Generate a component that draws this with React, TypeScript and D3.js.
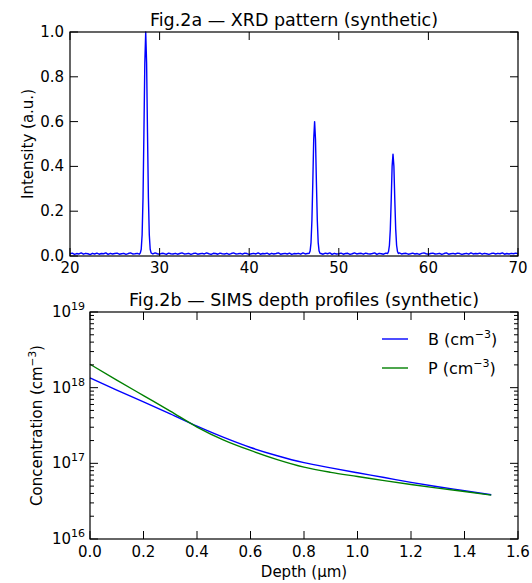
import React from "react";
import * as d3 from "d3";

// ---------- Data ----------
// XRD baseline (every 0.25 deg from 20 to 70), hand-read noisy background
const xrdBaseStep = 0.25;
const xrdBaseY = [
  0.010, 0.013, 0.007, 0.011, 0.009, 0.014, 0.008, 0.012, 0.010, 0.006,
  0.012, 0.009, 0.013, 0.008, 0.011, 0.010, 0.014, 0.007, 0.012, 0.009,
  0.011, 0.013, 0.008, 0.010, 0.012, 0.007, 0.011, 0.014, 0.009, 0.010,
  0.012, 0.008, 0.013, 0.010, 0.007, 0.011, 0.012, 0.009, 0.014, 0.010,
  0.008, 0.012, 0.011, 0.007, 0.013, 0.010, 0.009, 0.012, 0.008, 0.011,
  0.014, 0.009, 0.010, 0.012, 0.007, 0.011, 0.013, 0.008, 0.010, 0.012,
  0.009, 0.014, 0.010, 0.007, 0.012, 0.011, 0.008, 0.013, 0.010, 0.009,
  0.012, 0.007, 0.011, 0.014, 0.009, 0.010, 0.012, 0.008, 0.013, 0.011,
  0.007, 0.010, 0.012, 0.009, 0.014, 0.008, 0.011, 0.010, 0.013, 0.007,
  0.012, 0.009, 0.011, 0.014, 0.008, 0.010, 0.012, 0.009, 0.013, 0.007,
  0.011, 0.010, 0.012, 0.008, 0.014, 0.009, 0.011, 0.013, 0.007, 0.010,
  0.012, 0.009, 0.011, 0.008, 0.013, 0.010, 0.014, 0.007, 0.012, 0.009,
  0.010, 0.013, 0.008, 0.011, 0.012, 0.007, 0.010, 0.014, 0.009, 0.011,
  0.012, 0.008, 0.013, 0.010, 0.009, 0.011, 0.014, 0.007, 0.012, 0.010,
  0.008, 0.013, 0.011, 0.009, 0.012, 0.010, 0.007, 0.014, 0.009, 0.011,
  0.012, 0.008, 0.010, 0.013, 0.009, 0.011, 0.007, 0.012, 0.014, 0.010,
  0.008, 0.011, 0.013, 0.009, 0.010, 0.012, 0.007, 0.011, 0.014, 0.008,
  0.010, 0.012, 0.009, 0.013, 0.011, 0.007, 0.010, 0.012, 0.008, 0.014,
  0.009, 0.011, 0.010, 0.013, 0.008, 0.012, 0.010, 0.007, 0.011, 0.013,
  0.009, 0.012, 0.010, 0.014, 0.008, 0.011, 0.009, 0.012, 0.010, 0.013,
  0.010,
];
// Peak profiles (2θ, intensity)
const peak1X = [27.85, 27.95, 28.05, 28.15, 28.25, 28.35, 28.45, 28.55, 28.65, 28.75, 28.85, 28.95, 29.05];
const peak1Y = [0.014, 0.03, 0.095, 0.26, 0.55, 0.86, 1.0, 0.86, 0.55, 0.26, 0.095, 0.03, 0.014];
const peak2X = [46.7, 46.8, 46.9, 47.0, 47.1, 47.2, 47.3, 47.4, 47.5, 47.6, 47.7, 47.8, 47.9];
const peak2Y = [0.012, 0.022, 0.06, 0.16, 0.33, 0.52, 0.6, 0.52, 0.33, 0.16, 0.06, 0.022, 0.012];
const peak3X = [55.45, 55.55, 55.65, 55.75, 55.85, 55.95, 56.05, 56.15, 56.25, 56.35, 56.45, 56.55, 56.65];
const peak3Y = [0.011, 0.02, 0.048, 0.12, 0.25, 0.4, 0.455, 0.4, 0.25, 0.12, 0.048, 0.02, 0.011];

const xrdXTicks = [20, 30, 40, 50, 60, 70];
const xrdYTicks = [0, 0.2, 0.4, 0.6, 0.8, 1.0];

// SIMS depth profiles
const depth = [0, 0.1, 0.2, 0.3, 0.4, 0.5, 0.6, 0.7, 0.8, 0.9, 1.0, 1.1, 1.2, 1.3, 1.4, 1.5];
const boronConc = [1.35e18, 9.3e17, 6.5e17, 4.5e17, 3.1e17, 2.2e17, 1.62e17, 1.26e17, 1.02e17, 8.7e16, 7.5e16, 6.5e16, 5.6e16, 4.9e16, 4.35e16, 3.85e16];
const phosConc = [2.04e18, 1.26e18, 7.85e17, 4.9e17, 3.02e17, 2.03e17, 1.48e17, 1.12e17, 8.9e16, 7.6e16, 6.7e16, 5.9e16, 5.25e16, 4.7e16, 4.25e16, 3.8e16];
const simsXTicks = [0, 0.2, 0.4, 0.6, 0.8, 1.0, 1.2, 1.4, 1.6];
const simsYExps = [16, 17, 18, 19];

const FONT = "DejaVu Sans, sans-serif";

export default function App() {
  const W = 532, H = 583;

  // ---- Top: XRD ----
  const a = { l: 70, r: 518, t: 32, b: 256 };
  const xA = d3.scaleLinear().domain([20, 70]).range([a.l, a.r]);
  const yA = d3.scaleLinear().domain([0, 1]).range([a.b, a.t]);
  const windows = [
    [peak1X[0], peak1X[peak1X.length - 1]],
    [peak2X[0], peak2X[peak2X.length - 1]],
    [peak3X[0], peak3X[peak3X.length - 1]],
  ];
  const pts: [number, number][] = [];
  xrdBaseY.forEach((v, i) => {
    const x = 20 + i * xrdBaseStep;
    if (!windows.some(([lo, hi]) => x >= lo && x <= hi)) pts.push([x, v]);
  });
  peak1X.forEach((x, i) => pts.push([x, peak1Y[i]]));
  peak2X.forEach((x, i) => pts.push([x, peak2Y[i]]));
  peak3X.forEach((x, i) => pts.push([x, peak3Y[i]]));
  pts.sort((p, q) => p[0] - q[0]);
  const lineA = d3.line<[number, number]>()
    .x((d) => xA(d[0]))
    .y((d) => yA(d[1]))(pts) || "";

  // ---- Bottom: SIMS ----
  const b = { l: 90, r: 518, t: 312, b: 539 };
  const xB = d3.scaleLinear().domain([0, 1.6]).range([b.l, b.r]);
  const yB = d3.scaleLog().domain([1e16, 1e19]).range([b.b, b.t]);
  const mkLine = (vals: number[]) =>
    d3.line<number>()
      .x((_, i) => xB(depth[i]))
      .y((d) => yB(d))
      .curve(d3.curveMonotoneX)(vals) || "";
  const minors: number[] = [];
  for (let e = 16; e < 19; e++) for (let m = 2; m <= 9; m++) minors.push(m * Math.pow(10, e));

  const major = 8, minor = 4;
  const tickStroke = { stroke: "#000", strokeWidth: 1 };

  return (
    <svg width={W} height={H} style={{ position: "absolute", left: 0, top: 0, background: "#fff" }} fontFamily={FONT}>
      <rect x={0} y={0} width={W} height={H} fill="#fff" />
      {/* ===== Top panel ===== */}
      <text x={(a.l + a.r) / 2} y={26} textAnchor="middle" fontSize={17.5}>Fig.2a — XRD pattern (synthetic)</text>
      <path d={lineA} fill="none" stroke="#0000ff" strokeWidth={1.4} strokeLinejoin="round" />
      <rect x={a.l} y={a.t} width={a.r - a.l} height={a.b - a.t} fill="none" stroke="#000" strokeWidth={1.2} />
      {xrdXTicks.map((t) => (
        <g key={"xa" + t}>
          <line x1={xA(t)} x2={xA(t)} y1={a.b} y2={a.b - major} {...tickStroke} />
          <line x1={xA(t)} x2={xA(t)} y1={a.t} y2={a.t + major} {...tickStroke} />
          <text x={xA(t)} y={a.b + 17} textAnchor="middle" fontSize={15}>{t}</text>
        </g>
      ))}
      {xrdYTicks.map((t) => (
        <g key={"ya" + t}>
          <line x1={a.l} x2={a.l + major} y1={yA(t)} y2={yA(t)} {...tickStroke} />
          <line x1={a.r} x2={a.r - major} y1={yA(t)} y2={yA(t)} {...tickStroke} />
          <text x={a.l - 6} y={yA(t) + 5} textAnchor="end" fontSize={15}>{t.toFixed(1)}</text>
        </g>
      ))}
      <text transform={`translate(33,${(a.t + a.b) / 2}) rotate(-90)`} textAnchor="middle" fontSize={15}>Intensity (a.u.)</text>

      {/* ===== Bottom panel ===== */}
      <text x={(b.l + b.r) / 2} y={306} textAnchor="middle" fontSize={17.5}>Fig.2b — SIMS depth profiles (synthetic)</text>
      <path d={mkLine(boronConc)} fill="none" stroke="#0000ff" strokeWidth={1.4} />
      <path d={mkLine(phosConc)} fill="none" stroke="#008000" strokeWidth={1.4} />
      <rect x={b.l} y={b.t} width={b.r - b.l} height={b.b - b.t} fill="none" stroke="#000" strokeWidth={1.2} />
      {simsXTicks.map((t) => (
        <g key={"xb" + t}>
          <line x1={xB(t)} x2={xB(t)} y1={b.b} y2={b.b - major} {...tickStroke} />
          <line x1={xB(t)} x2={xB(t)} y1={b.t} y2={b.t + major} {...tickStroke} />
          <text x={xB(t)} y={b.b + 18} textAnchor="middle" fontSize={15}>{t.toFixed(1)}</text>
        </g>
      ))}
      {simsYExps.map((e) => {
        const y = yB(Math.pow(10, e));
        return (
          <g key={"yb" + e}>
            <line x1={b.l} x2={b.l + major} y1={y} y2={y} {...tickStroke} />
            <line x1={b.r} x2={b.r - major} y1={y} y2={y} {...tickStroke} />
            <text x={b.l - 5} y={y + 5} textAnchor="end" fontSize={15}>
              10<tspan fontSize={11} dy={-7}>{e}</tspan>
            </text>
          </g>
        );
      })}
      {minors.map((v) => (
        <g key={"mb" + v}>
          <line x1={b.l} x2={b.l + minor} y1={yB(v)} y2={yB(v)} {...tickStroke} />
          <line x1={b.r} x2={b.r - minor} y1={yB(v)} y2={yB(v)} {...tickStroke} />
        </g>
      ))}
      <text transform={`translate(42,${(b.t + b.b) / 2}) rotate(-90)`} textAnchor="middle" fontSize={15}>
        Concentration (cm<tspan fontSize={10.5} dy={-6}>−3</tspan><tspan dy={6}>)</tspan>
      </text>
      <text x={(b.l + b.r) / 2} y={577} textAnchor="middle" fontSize={15}>Depth (µm)</text>

      {/* legend */}
      <line x1={382} x2={408} y1={339} y2={339} stroke="#0000ff" strokeWidth={1.4} />
      <text x={428} y={345} fontSize={16}>B (cm<tspan fontSize={11} dy={-7}>−3</tspan><tspan dy={7}>)</tspan></text>
      <line x1={382} x2={408} y1={368} y2={368} stroke="#008000" strokeWidth={1.4} />
      <text x={428} y={374} fontSize={16}>P (cm<tspan fontSize={11} dy={-7}>−3</tspan><tspan dy={7}>)</tspan></text>
    </svg>
  );
}
